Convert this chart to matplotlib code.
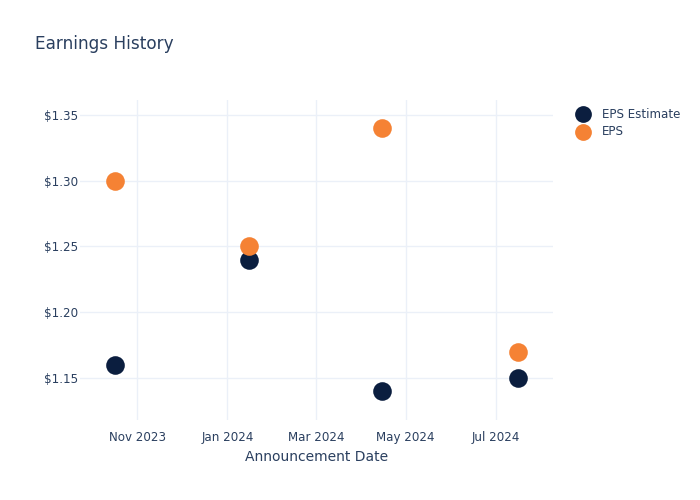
import matplotlib.pyplot as plt
import matplotlib.dates as mdates
import pandas as pd

# announcement dates and values
dates = pd.to_datetime(["2023-10-17", "2024-01-16", "2024-04-15", "2024-07-16"])
eps_estimate = [1.16, 1.24, 1.14, 1.15]
eps_actual = [1.30, 1.25, 1.34, 1.17]

text_color = "#2a3f5f"
grid_color = "#ebf0f8"

plt.rcParams['font.family'] = ['DejaVu Sans']

fig = plt.figure(figsize=(7, 5), dpi=100)
ax = fig.add_axes([80 / 700, 80 / 500, 473 / 700, 320 / 500])

ax.scatter(dates, eps_estimate, s=180, color="#0b1e3f", label="EPS Estimate", zorder=3, linewidths=0)
ax.scatter(dates, eps_actual, s=180, color="#f58234", label="EPS", zorder=3, linewidths=0)

ax.set_xlim(pd.Timestamp("2023-09-23"), pd.Timestamp("2024-08-09"))
ax.set_ylim(1.118, 1.3614)

ax.xaxis.set_major_locator(mdates.MonthLocator(bymonth=[1, 3, 5, 7, 9, 11]))
ax.xaxis.set_major_formatter(mdates.DateFormatter("%b %Y"))
ax.set_yticks([1.15, 1.20, 1.25, 1.30, 1.35])
ax.set_yticklabels(["$%.2f" % v for v in [1.15, 1.20, 1.25, 1.30, 1.35]])

ax.grid(True, color=grid_color, linewidth=1)
ax.set_axisbelow(True)
for s in ax.spines.values():
    s.set_visible(False)
ax.tick_params(length=0, colors=text_color, labelsize=8.6)
ax.tick_params(axis="x", pad=8)
ax.tick_params(axis="y", pad=1.5)

ax.set_xlabel("Announcement Date", color=text_color, fontsize=10, labelpad=4)
fig.text(35 / 700, 1 - 44 / 500, "Earnings History", color=text_color, fontsize=12.2, va="center")

ax.legend(loc="upper left", bbox_to_anchor=(1.025, 0.995), frameon=False,
          labelcolor=text_color, fontsize=8.6, handletextpad=0.6, borderaxespad=0.1,
          labelspacing=0.4, markerscale=0.9)

plt.savefig("out.png", dpi=100)
